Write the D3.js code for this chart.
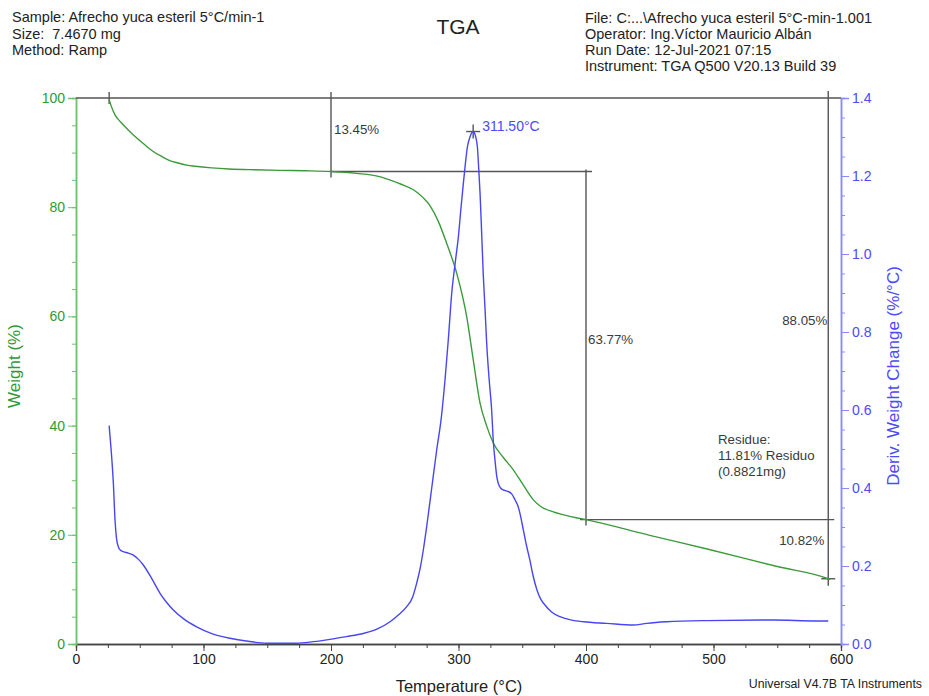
<!DOCTYPE html>
<html>
<head>
<meta charset="utf-8">
<script src="https://cdn.jsdelivr.net/npm/d3@7"></script>
<style>
  html, body { margin: 0; padding: 0; background: #fff; }
  svg { display: block; font-family: "Liberation Sans", Arial, sans-serif; }
  svg text { white-space: pre; }
</style>
</head>
<body>
<svg id="chart" width="929" height="696"></svg>
<script>
// Weight (%) vs temperature (°C)
const weightTemp = [26, 27.5, 30.6, 35, 40.8, 47, 54.1, 60, 67.2, 74, 80, 87, 93.3, 106.4, 120, 140, 160, 180, 200,
  220, 238, 246, 255, 264.6, 272, 277.6, 284, 290.7, 298.6, 306.4, 311.6, 316.9, 322, 327.3, 335, 343, 350, 358.7,
  365, 374.4, 385, 395.3, 400, 450, 495, 550, 590, 591.5];
const weightPct = [99.7, 98.6, 96.9, 95.6, 94.2, 92.8, 91.4, 90.3, 89.3, 88.5, 88.1, 87.7, 87.5, 87.2, 87.0, 86.85, 86.75, 86.68, 86.55,
  86.2, 85.6, 85.0, 84.2, 83.2, 81.8, 80.3, 77.5, 73.4, 67.9, 60.0, 52.0, 44.1, 40.0, 36.8, 34.2, 31.9, 29.4, 26.4,
  25.1, 24.2, 23.5, 23.0, 22.78, 19.9, 17.4, 14.2, 11.95, 11.81];

// Derivative weight change (%/°C) vs temperature (°C)
const derivTemp = [26, 27.5, 29.3, 30.6, 31.8, 33.2, 35, 37.1, 41, 45, 49, 52.8, 59, 65.9, 71, 76.3, 85, 94.6, 107, 120.8,
  135, 149.6, 173, 186, 199.2, 212, 225.3, 236, 246.3, 253, 259.4, 264, 267.2, 270, 272.4, 275, 279, 283, 286.5, 289.5,
  292, 294.7, 297.5, 299.9, 302, 303.8, 305.5, 307, 309, 311.5, 313.5, 314.8, 316, 316.9, 318.2, 319.5, 320.8, 322.1,
  324, 326, 327.3, 328.6, 330, 331.2, 333, 335.1, 338, 341.7, 344.3, 346.5, 348.2, 351, 353.5, 356, 358.5, 361.6, 364.5,
  367.8, 373, 379.6, 388, 397.9, 416.2, 437.1, 447.6, 463.3, 494.6, 546.9, 581, 590];
const derivVal = [0.56, 0.50, 0.412, 0.318, 0.27, 0.2495, 0.24, 0.237, 0.233, 0.228, 0.217, 0.2026, 0.17, 0.13, 0.107, 0.087, 0.063, 0.044, 0.026, 0.0146,
  0.007, 0.002, 0.002, 0.006, 0.012, 0.019, 0.027, 0.038, 0.057, 0.075, 0.096, 0.12, 0.156, 0.195, 0.241, 0.30, 0.40, 0.50, 0.58, 0.68,
  0.78, 0.90, 0.98, 1.044, 1.12, 1.181, 1.235, 1.275, 1.30, 1.314, 1.30, 1.275, 1.21, 1.156, 1.05, 0.942, 0.86, 0.771,
  0.68, 0.60, 0.52, 0.472, 0.43, 0.412, 0.40, 0.395, 0.392, 0.385, 0.37, 0.355, 0.335, 0.29, 0.25, 0.215, 0.175, 0.138, 0.115,
  0.10, 0.082, 0.07, 0.062, 0.057, 0.053, 0.0487, 0.053, 0.057, 0.06, 0.0615, 0.059, 0.059];

// Tick values
const xTicks = [0, 100, 200, 300, 400, 500, 600];
const weightTicks = [0, 20, 40, 60, 80, 100];
const derivTicks = [0.0, 0.2, 0.4, 0.6, 0.8, 1.0, 1.2, 1.4];

// Step analysis: start, limits and weights at each limit
const startTemp = 26;
const stepTemps = [200, 400, 590];
const stepWeights = [86.55, 22.78, 11.95];
const stepLosses = ["13.45%", "63.77%", "10.82%"];
const totalLoss = "88.05%";
const peakTemp = 311.5;
const peakVal = 1.314;
const residueLines = ["Residue:", "11.81% Residuo", "(0.8821mg)"];

const headerLeft = ["Sample: Afrecho yuca esteril 5°C/min-1", "Size:  7.4670 mg", "Method: Ramp"];
const headerRight = ["File: C:...\\Afrecho yuca esteril 5°C-min-1.001", "Operator: Ing.Víctor Mauricio Albán",
  "Run Date: 12-Jul-2021 07:15", "Instrument: TGA Q500 V20.13 Build 39"];

const svg = d3.select("#chart");
const plotL = 76, plotR = 841, plotT = 98, plotB = 644;

const x = d3.scaleLinear().domain([0, 600]).range([plotL, plotR]);
const yW = d3.scaleLinear().domain([0, 100]).range([plotB, plotT]);
const yD = d3.scaleLinear().domain([0, 1.4]).range([plotB, plotT]);

const green = "#3c9a3c", greenAxis = "#6cc46c", greenText = "#2f9a35";
const blue = "#4646f5", blueAxis = "#8a8aff", blueText = "#4a4aff";
const annot = "#555", annotText = "#3a3a3a";
const fontFam = "Liberation Sans, Arial, sans-serif";

// Header text
svg.append("g").selectAll("text").data(headerLeft).join("text")
  .attr("x", 12).attr("y", (d, i) => 22 + i * 16.5)
  .attr("font-size", 14.5).attr("fill", "#222").text(d => d);
svg.append("g").selectAll("text").data(headerRight).join("text")
  .attr("x", 585).attr("y", (d, i) => 23 + i * 16)
  .attr("font-size", 14.5).attr("fill", "#222").text(d => d);
svg.append("text").attr("x", 458).attr("y", 34).attr("text-anchor", "middle")
  .attr("font-size", 21).attr("fill", "#222").text("TGA");

// Axes
const gx = svg.append("g").attr("transform", `translate(0,${plotB})`);
gx.call(d3.axisBottom(x).tickValues(d3.range(0, 601, 25)).tickSize(4).tickFormat(""));
gx.append("g").call(d3.axisBottom(x).tickValues(xTicks).tickSize(7).tickFormat(d3.format("d")));
gx.selectAll("path.domain").attr("stroke", "#444").attr("stroke-width", 1.3);
gx.selectAll("line").attr("stroke", "#444");
gx.selectAll("text").attr("font-size", 14).attr("fill", "#222").attr("font-family", fontFam);

const gl = svg.append("g").attr("transform", `translate(${plotL},0)`);
gl.call(d3.axisLeft(yW).tickValues(d3.range(0, 101, 5)).tickSize(4).tickFormat(""));
gl.append("g").call(d3.axisLeft(yW).tickValues(weightTicks).tickSize(8).tickFormat(d3.format("d")));
gl.selectAll("path.domain").attr("stroke", greenAxis).attr("stroke-width", 1.5);
gl.selectAll("line").attr("stroke", greenAxis);
gl.selectAll("text").attr("font-size", 14).attr("fill", greenText).attr("font-family", fontFam);

const gr = svg.append("g").attr("transform", `translate(${plotR},0)`);
gr.call(d3.axisRight(yD).tickValues(d3.range(0, 29).map(i => i * 0.05)).tickSize(4).tickFormat(""));
gr.append("g").call(d3.axisRight(yD).tickValues(derivTicks).tickSize(8).tickFormat(d3.format(".1f")));
gr.selectAll("path.domain").attr("stroke", blueAxis).attr("stroke-width", 1.5);
gr.selectAll("line").attr("stroke", blueAxis);
gr.selectAll("text").attr("font-size", 14).attr("fill", blueText).attr("font-family", fontFam);

// Axis titles
svg.append("text").attr("transform", "translate(20,366) rotate(-90)").attr("text-anchor", "middle")
  .attr("font-size", 17).attr("fill", greenText).text("Weight (%)");
svg.append("text").attr("transform", "translate(899,376) rotate(-90)").attr("text-anchor", "middle")
  .attr("font-size", 17).attr("fill", blueText).text("Deriv. Weight Change (%/°C)");
svg.append("text").attr("x", 459).attr("y", 692).attr("text-anchor", "middle")
  .attr("font-size", 16.5).attr("fill", "#222").text("Temperature (°C)");
svg.append("text").attr("x", 922).attr("y", 688).attr("text-anchor", "end")
  .attr("font-size", 12.3).attr("fill", "#222").text("Universal V4.7B TA Instruments");

// Step annotation lines
const ann = svg.append("g").attr("stroke", annot).attr("stroke-width", 1.4).attr("fill", "none");
const seg = (x1, y1, x2, y2) => ann.append("line").attr("x1", x1).attr("y1", y1).attr("x2", x2).attr("y2", y2);
seg(x(0), yW(100), x(600), yW(100));
seg(x(startTemp), yW(100) - 6, x(startTemp), yW(100) + 6);
// first step: start → 200 °C
seg(x(stepTemps[0]), yW(100) - 6, x(stepTemps[0]), yW(stepWeights[0]) + 6);
seg(x(stepTemps[0]), yW(stepWeights[0]), x(stepTemps[1]) + 6, yW(stepWeights[0]));
// second step: 200 → 400 °C
seg(x(stepTemps[1]), yW(stepWeights[0]) - 2, x(stepTemps[1]), yW(stepWeights[1]) + 6);
seg(x(stepTemps[1]) - 6, yW(stepWeights[1]), x(stepTemps[2]) + 6, yW(stepWeights[1]));
// third step and total: → 590 °C
seg(x(stepTemps[2]), yW(100) - 7, x(stepTemps[2]), yW(stepWeights[2]) + 7);
seg(x(stepTemps[2]) - 7, yW(stepWeights[2]), x(stepTemps[2]) + 7, yW(stepWeights[2]));

// Curves
const lineW = d3.line().x(d => x(d[0])).y(d => yW(d[1])).curve(d3.curveMonotoneX);
const lineD = d3.line().x(d => x(d[0])).y(d => yD(d[1])).curve(d3.curveMonotoneX);
svg.append("path").datum(d3.zip(weightTemp, weightPct)).attr("d", lineW)
  .attr("fill", "none").attr("stroke", green).attr("stroke-width", 1.4);
svg.append("path").datum(d3.zip(derivTemp, derivVal)).attr("d", lineD)
  .attr("fill", "none").attr("stroke", blue).attr("stroke-width", 1.4);

// Peak marker
const px = x(peakTemp), py = yD(peakVal);
ann.append("line").attr("x1", px - 7).attr("y1", py).attr("x2", px + 7).attr("y2", py);
ann.append("line").attr("x1", px).attr("y1", py - 7).attr("x2", px).attr("y2", py + 7);
svg.append("text").attr("x", px + 9).attr("y", py - 1).attr("font-size", 14).attr("fill", blueText)
  .text(d3.format(".2f")(peakTemp) + "°C");

// Step labels
const lbl = svg.append("g").attr("font-size", 13.3).attr("fill", annotText);
lbl.append("text").attr("x", x(stepTemps[0]) + 3).attr("y", 134).text(stepLosses[0]);
lbl.append("text").attr("x", x(stepTemps[1]) + 2).attr("y", 344).text(stepLosses[1]);
lbl.append("text").attr("x", x(stepTemps[2]) - 1).attr("y", 325).attr("text-anchor", "end").text(totalLoss);
lbl.append("text").attr("x", x(stepTemps[2]) - 4).attr("y", 545).attr("text-anchor", "end").text(stepLosses[2]);
lbl.selectAll(null).data(residueLines).join("text")
  .attr("x", 718).attr("y", (d, i) => 444 + i * 16).text(d => d);
</script>
</body>
</html>
